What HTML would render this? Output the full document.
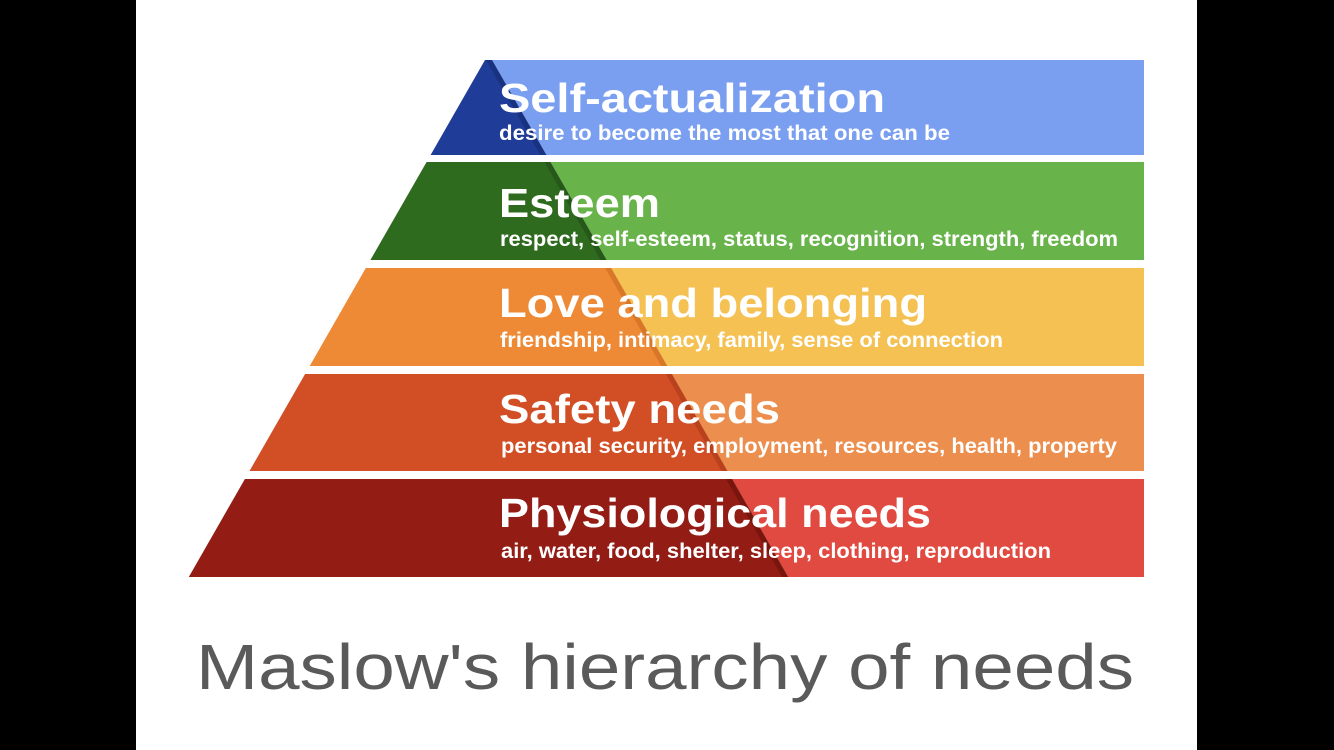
<!DOCTYPE html>
<html><head><meta charset="utf-8"><style>
html,body{margin:0;padding:0;background:#000;}
svg{display:block;}
text{font-family:"Liberation Sans",sans-serif;fill:#fff;font-weight:bold;}
</style></head><body>
<svg width="1334" height="750" viewBox="0 0 1334 750" xmlns="http://www.w3.org/2000/svg">
<rect x="0" y="0" width="1334" height="750" fill="#000"/>
<rect x="136" y="0" width="1061" height="750" fill="#fff"/>
<!-- band1 60-155 -->
<polygon points="492,60 1144,60 1144,155 546.4,155" fill="#7b9ff0"/>
<polygon points="485,60 492,60 546.4,155 430.6,155" fill="#1f3c98"/>
<polygon points="486,60 492,60 546.4,155 540.4,155" fill="#172d75" opacity="0.7"/>
<!-- band2 162-260 -->
<polygon points="550.4,162 1144,162 1144,260 606.6,260" fill="#68b34a"/>
<polygon points="426.6,162 550.4,162 606.6,260 370.4,260" fill="#2f6b1f"/>
<polygon points="544.4,162 550.4,162 606.6,260 600.6,260" fill="#24521a" opacity="0.8"/>
<!-- band3 268-366 -->
<polygon points="611.2,268 1144,268 1144,366 667.3,366" fill="#f4c152"/>
<polygon points="365.8,268 611.2,268 667.3,366 309.7,366" fill="#ee8a35"/>
<polygon points="605.2,268 611.2,268 667.3,366 661.3,366" fill="#c96a20" opacity="0.6"/>
<!-- band4 374-471 -->
<polygon points="671.9,374 1144,374 1144,471 727.5,471" fill="#ec8e4d"/>
<polygon points="305.1,374 671.9,374 727.5,471 249.5,471" fill="#d24e25"/>
<polygon points="665.9,374 671.9,374 727.5,471 721.5,471" fill="#a83a18" opacity="0.6"/>
<!-- band5 479-577 -->
<polygon points="732.1,479 1144,479 1144,577 788.2,577" fill="#e04a40"/>
<polygon points="244.9,479 732.1,479 788.2,577 188.8,577" fill="#931c14"/>
<polygon points="726.1,479 732.1,479 788.2,577 782.2,577" fill="#6e130d" opacity="0.7"/>

<text x="499" y="112" font-size="41" textLength="386" lengthAdjust="spacingAndGlyphs">Self-actualization</text>
<text x="499" y="140" font-size="21" textLength="451" lengthAdjust="spacingAndGlyphs">desire to become the most that one can be</text>
<text x="499" y="217" font-size="41" textLength="161" lengthAdjust="spacingAndGlyphs">Esteem</text>
<text x="500" y="246" font-size="21" textLength="618" lengthAdjust="spacingAndGlyphs">respect, self-esteem, status, recognition, strength, freedom</text>
<text x="499" y="317" font-size="41" textLength="428" lengthAdjust="spacingAndGlyphs">Love and belonging</text>
<text x="500" y="347" font-size="21" textLength="503" lengthAdjust="spacingAndGlyphs">friendship, intimacy, family, sense of connection</text>
<text x="499" y="423" font-size="41" textLength="281" lengthAdjust="spacingAndGlyphs">Safety needs</text>
<text x="501" y="453" font-size="21" textLength="616" lengthAdjust="spacingAndGlyphs">personal security, employment, resources, health, property</text>
<text x="499" y="527" font-size="41" textLength="432" lengthAdjust="spacingAndGlyphs">Physiological needs</text>
<text x="501" y="558" font-size="21" textLength="550" lengthAdjust="spacingAndGlyphs">air, water, food, shelter, sleep, clothing, reproduction</text>

<text x="196" y="689" font-size="64" style="font-weight:normal;fill:#5a5a5a" textLength="938" lengthAdjust="spacingAndGlyphs">Maslow's hierarchy of needs</text>
</svg>
</body></html>
